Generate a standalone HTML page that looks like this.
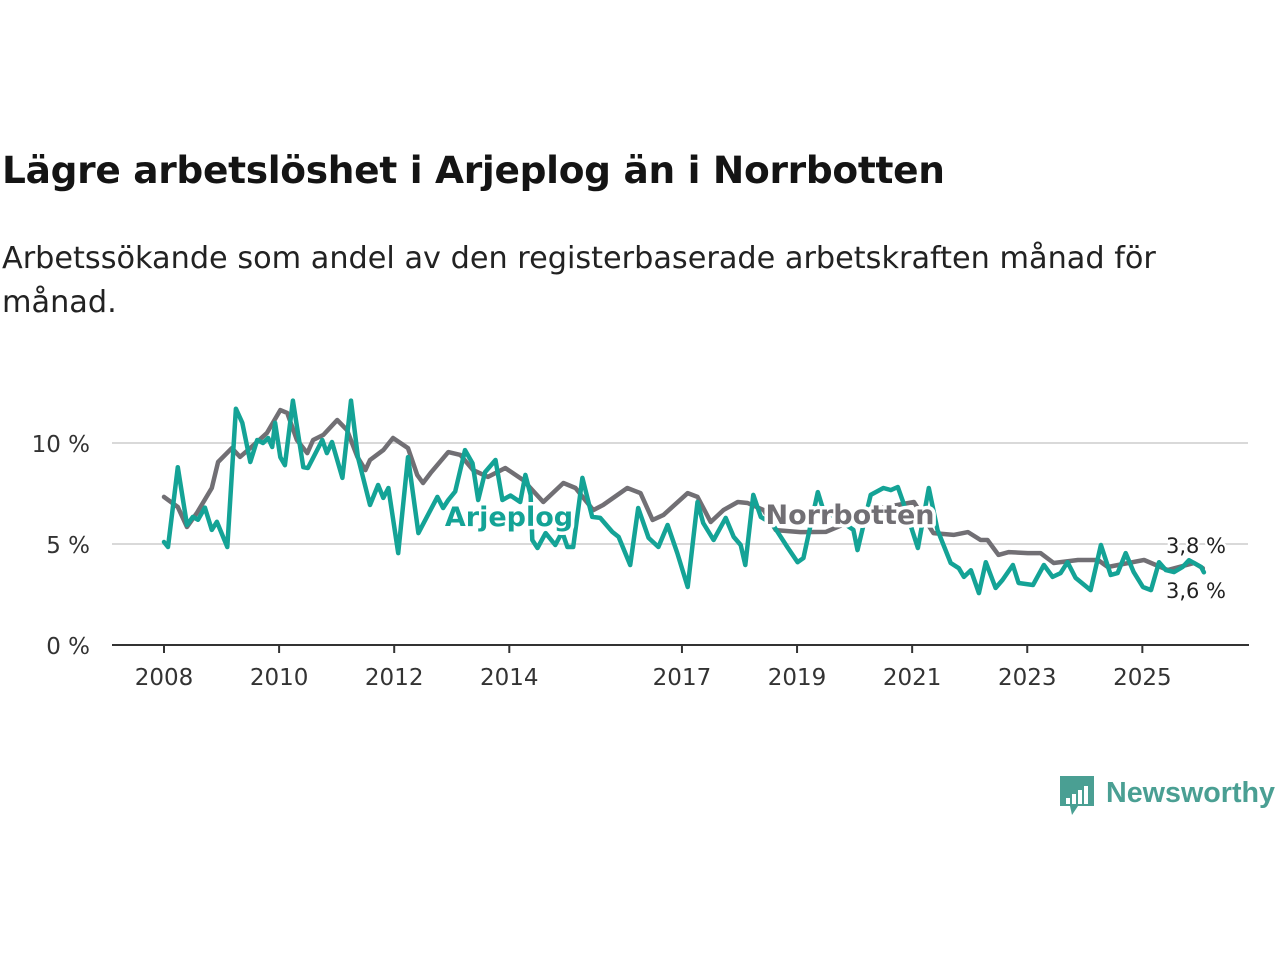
<!DOCTYPE html>
<html><head><meta charset="utf-8">
<style>
body{margin:0;background:#fff;width:1280px;height:960px;overflow:hidden;font-family:"Liberation Sans","DejaVu Sans",sans-serif;}
h1{position:absolute;left:2px;top:148px;margin:0;font-size:37.5px;font-weight:bold;color:#141414;font-family:"DejaVu Sans","Liberation Sans",sans-serif;letter-spacing:-0.3px;}
.sub{position:absolute;left:2px;top:237px;width:1240px;margin:0;font-size:30.3px;line-height:44px;color:#222;font-family:"DejaVu Sans","Liberation Sans",sans-serif;}
svg{position:absolute;left:0;top:0;}
</style></head><body>
<h1>Lägre arbetslöshet i Arjeplog än i Norrbotten</h1>
<p class="sub">Arbetssökande som andel av den registerbaserade arbetskraften månad för<br>månad.</p>
<svg id="chart" width="1280" height="960"></svg>
<script>
const xTicks=[2008,2010,2012,2014,2017,2019,2021,2023,2025];
const yTicks=[0,5,10];
const yTickLabels=["0 %","5 %","10 %"];
const norrYears=[2008.0,2008.24,2008.40,2008.57,2008.83,2008.94,2009.18,2009.32,2009.50,2009.79,2010.02,2010.14,2010.31,2010.49,2010.59,2010.77,2011.01,2011.18,2011.36,2011.50,2011.58,2011.81,2011.98,2012.24,2012.40,2012.50,2012.63,2012.94,2013.15,2013.37,2013.63,2013.93,2014.24,2014.59,2014.94,2015.15,2015.46,2015.63,2016.05,2016.28,2016.49,2016.68,2017.10,2017.27,2017.50,2017.72,2017.97,2018.14,2018.42,2018.63,2019.06,2019.50,2020.0,2020.5,2021.03,2021.37,2021.72,2021.97,2022.19,2022.31,2022.50,2022.68,2023.01,2023.23,2023.46,2023.88,2024.23,2024.40,2025.03,2025.44,2025.90,2026.05];
const norrValues=[7.33,6.83,5.84,6.53,7.77,9.06,9.75,9.31,9.75,10.5,11.63,11.49,10.15,9.5,10.15,10.4,11.14,10.64,9.31,8.66,9.16,9.65,10.25,9.75,8.42,8.02,8.51,9.55,9.41,8.66,8.32,8.76,8.17,7.08,8.02,7.77,6.68,6.93,7.77,7.52,6.19,6.44,7.52,7.33,6.09,6.68,7.08,7.03,6.68,5.69,5.59,5.6,6.2,6.8,7.08,5.54,5.45,5.59,5.2,5.2,4.46,4.6,4.55,4.55,4.06,4.21,4.21,3.86,4.21,3.71,4.06,3.8];
const arjYears=[2008.0,2008.07,2008.24,2008.40,2008.50,2008.59,2008.71,2008.83,2008.92,2009.10,2009.25,2009.36,2009.50,2009.62,2009.72,2009.81,2009.88,2009.93,2010.02,2010.10,2010.24,2010.42,2010.50,2010.75,2010.83,2010.92,2011.10,2011.25,2011.37,2011.58,2011.72,2011.81,2011.90,2012.07,2012.24,2012.42,2012.75,2012.85,2012.94,2013.06,2013.23,2013.36,2013.46,2013.58,2013.76,2013.88,2014.02,2014.19,2014.28,2014.37,2014.40,2014.49,2014.63,2014.80,2014.92,2015.01,2015.11,2015.27,2015.44,2015.58,2015.79,2015.90,2016.10,2016.24,2016.42,2016.59,2016.75,2016.92,2017.10,2017.27,2017.37,2017.55,2017.76,2017.90,2018.02,2018.10,2018.24,2018.37,2018.57,2018.83,2019.01,2019.11,2019.36,2019.44,2019.67,2019.98,2020.05,2020.28,2020.50,2020.63,2020.75,2020.83,2021.10,2021.29,2021.44,2021.67,2021.81,2021.90,2022.02,2022.16,2022.28,2022.45,2022.57,2022.75,2022.85,2023.10,2023.29,2023.44,2023.58,2023.70,2023.84,2024.10,2024.28,2024.45,2024.57,2024.71,2024.85,2025.01,2025.15,2025.29,2025.41,2025.55,2025.70,2025.81,2026.02,2026.07];
const arjValues=[5.1,4.85,8.8,5.94,6.34,6.2,6.8,5.7,6.1,4.85,11.7,11.0,9.06,10.15,10.0,10.25,9.8,11.0,9.3,8.9,12.1,8.8,8.76,10.15,9.5,10.05,8.27,12.1,9.3,6.93,7.92,7.28,7.77,4.55,9.3,5.54,7.33,6.78,7.18,7.6,9.65,9.0,7.18,8.56,9.16,7.18,7.4,7.08,8.42,7.43,5.2,4.8,5.54,4.95,5.6,4.85,4.85,8.27,6.34,6.29,5.6,5.35,3.96,6.78,5.3,4.85,5.94,4.55,2.87,7.08,6.04,5.2,6.29,5.35,4.95,3.96,7.43,6.34,6.0,4.85,4.1,4.3,7.57,6.83,6.3,5.7,4.7,7.43,7.77,7.67,7.82,7.18,4.8,7.77,5.7,4.06,3.8,3.37,3.7,2.57,4.1,2.82,3.22,3.96,3.07,2.97,3.96,3.37,3.56,4.1,3.32,2.72,4.95,3.47,3.56,4.55,3.61,2.87,2.72,4.1,3.71,3.61,3.86,4.2,3.86,3.6];
const NS='http://www.w3.org/2000/svg';
const svg=document.getElementById('chart');
const xs=y=>164+(y-2008)*57.55;
const ys=v=>645-v*20.2;
function mk(tag,attrs,parent){const e=document.createElementNS(NS,tag);for(const k in attrs)e.setAttribute(k,attrs[k]);(parent||svg).appendChild(e);return e;}
yTicks.forEach((t,i)=>{
  if(t>0){const g=mk('line',{x1:112,x2:1248,y1:ys(t),y2:ys(t),stroke:'#d9d9d9','stroke-width':2});
  
  }
  const l=mk('text',{x:90,y:ys(t)+9,'text-anchor':'end','font-size':23,fill:'#333','font-family':'"DejaVu Sans","Liberation Sans",sans-serif'});
  l.textContent=yTickLabels[i];
  
  
});
const ax=mk('line',{x1:112,x2:1249,y1:645,y2:645,stroke:'#333','stroke-width':2});


xTicks.forEach(t=>{
  const tk=mk('line',{x1:xs(t),x2:xs(t),y1:645,y2:653,stroke:'#333','stroke-width':2});
  
  
  const l=mk('text',{x:xs(t),y:685,'text-anchor':'middle','font-size':23,fill:'#333','font-family':'"DejaVu Sans","Liberation Sans",sans-serif'});
  l.textContent=t;
  
  
});
function line(xsArr,vals,color,name){
  const d=xsArr.map((y,i)=>(i?'L':'M')+xs(y).toFixed(1)+','+ys(vals[i]).toFixed(1)).join('');
  const p=mk('path',{d:d,fill:'none',stroke:color,'stroke-width':4.5,'stroke-linejoin':'round','stroke-linecap':'round'});
  
  
}
line(norrYears,norrValues,'#716f74','norrbotten-line');
line(arjYears,arjValues,'#14a396','arjeplog-line');
function lab(x,y,txt,color,name){
  const t=mk('text',{x:x,y:y,'text-anchor':'middle','font-size':27,'font-weight':'bold',fill:color,stroke:'#fff','stroke-width':7,'paint-order':'stroke','stroke-linejoin':'round','font-family':'"DejaVu Sans","Liberation Sans",sans-serif'});
  t.textContent=txt;
  
  
}
lab(509,526,'Arjeplog','#14a396','arjeplog-label');
lab(850,524,'Norrbotten','#716f74','norrbotten-label');
function end(y,txt,name){
  const t=mk('text',{x:1196,y:y,'text-anchor':'middle','font-size':21,fill:'#222',stroke:'#fff','stroke-width':5,'paint-order':'stroke','font-family':'"DejaVu Sans","Liberation Sans",sans-serif'});
  t.textContent=txt;
  
  
}
end(553,'3,8 %','norrbotten-end-value');
end(598,'3,6 %','arjeplog-end-value');
const lg=mk('g',{});


mk('path',{d:'M1060,776 h34 v30 h-16 l-6,9 l-2,-9 h-10 z',fill:'#4a9f93'},lg);
[[1066,798],[1072,794],[1078,790],[1084,786]].forEach(b=>mk('rect',{x:b[0],y:b[1],width:4,height:804-b[1],fill:'#fff'},lg));
const lt=mk('text',{x:1106,y:802,'font-size':29,'font-weight':'bold',fill:'#4a9f93','font-family':'"Liberation Sans",sans-serif','textLength':169,'lengthAdjust':'spacingAndGlyphs'},lg);
lt.textContent='Newsworthy';
</script>
</body></html>
